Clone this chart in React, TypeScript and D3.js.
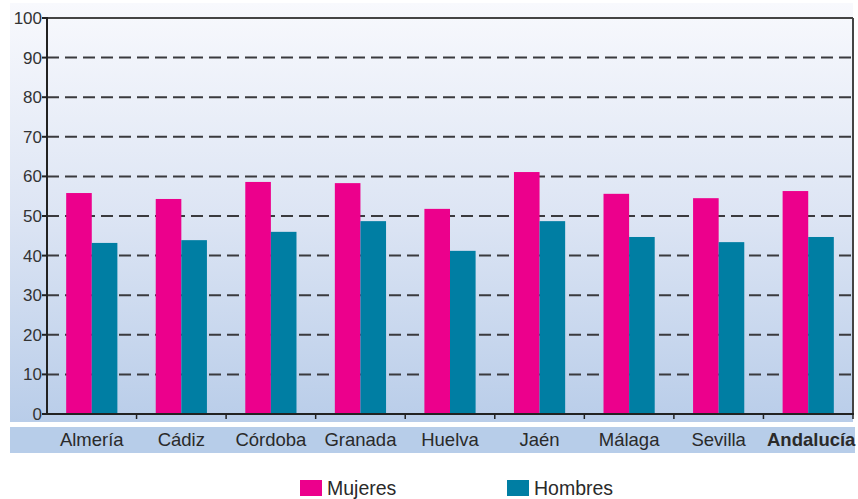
import React, { useRef, useEffect } from 'react';
import * as d3 from 'd3';

const provincias = ['Almería', 'Cádiz', 'Córdoba', 'Granada', 'Huelva', 'Jaén', 'Málaga', 'Sevilla', 'Andalucía'];
const mujeres = [55.8, 54.3, 58.6, 58.3, 51.8, 61.1, 55.6, 54.5, 56.3];
const hombres = [43.2, 43.9, 46.0, 48.7, 41.2, 48.7, 44.7, 43.4, 44.7];
const yTicks = [0, 10, 20, 30, 40, 50, 60, 70, 80, 90, 100];
const series = [
  { name: 'Mujeres', color: '#ec008c', values: mujeres },
  { name: 'Hombres', color: '#007ea3', values: hombres },
];

const W = 858;
const H = 499;

export default function App() {
  const ref = useRef<SVGSVGElement | null>(null);

  useEffect(() => {
    if (!ref.current) return;
    const svg = d3.select(ref.current);
    svg.selectAll('*').remove();

    const left = 47, right = 853, top = 18, bottom = 414;
    const font = '"Liberation Sans", Arial, sans-serif';

    // background gradient
    const defs = svg.append('defs');
    const grad = defs.append('linearGradient').attr('id', 'bg').attr('x1', 0).attr('y1', 0).attr('x2', 0).attr('y2', 1);
    grad.append('stop').attr('offset', '0%').attr('stop-color', '#f8f9fd');
    grad.append('stop').attr('offset', '50%').attr('stop-color', '#dde5f4');
    grad.append('stop').attr('offset', '100%').attr('stop-color', '#b9cde9');
    svg.append('rect').attr('x', 10).attr('y', 3).attr('width', right - 10).attr('height', 419).attr('fill', 'url(#bg)');

    // label band
    svg.append('rect').attr('x', 10).attr('y', 427).attr('width', right + 2 - 10).attr('height', 26).attr('fill', '#b7cde9');

    const x = d3.scaleBand<string>().domain(provincias).range([left, right]).paddingInner(0).paddingOuter(0);
    const y = d3.scaleLinear().domain([0, 100]).range([bottom, top]);
    const bw = 25.6;

    // gridlines
    svg.append('g').selectAll('line').data(yTicks.filter(t => t > 0 && t < 100)).join('line')
      .attr('x1', left).attr('x2', right)
      .attr('y1', d => y(d)).attr('y2', d => y(d))
      .attr('stroke', '#3a3a3e').attr('stroke-width', 2)
      .attr('stroke-dasharray', '12,6');

    // bars
    series.forEach((s, si) => {
      svg.append('g').selectAll('rect').data(s.values).join('rect')
        .attr('x', (d, i) => (x(provincias[i]) as number) + x.bandwidth() / 2 - bw + si * bw)
        .attr('y', d => y(d))
        .attr('width', bw)
        .attr('height', d => y(0) - y(d))
        .attr('fill', s.color);
    });

    // frame
    svg.append('line').attr('x1', left).attr('x2', right).attr('y1', top).attr('y2', top).attr('stroke', '#444').attr('stroke-width', 2);
    svg.append('line').attr('x1', right).attr('x2', right).attr('y1', top).attr('y2', bottom).attr('stroke', '#444').attr('stroke-width', 2);
    svg.append('line').attr('x1', left).attr('x2', left).attr('y1', top - 1).attr('y2', bottom + 1).attr('stroke', '#222').attr('stroke-width', 2);
    svg.append('line').attr('x1', left).attr('x2', right + 1).attr('y1', bottom).attr('y2', bottom).attr('stroke', '#222').attr('stroke-width', 2);

    // y ticks
    const yg = svg.append('g');
    yTicks.forEach(t => {
      yg.append('line').attr('x1', left - 5).attr('x2', left).attr('y1', y(t)).attr('y2', y(t)).attr('stroke', '#222').attr('stroke-width', 2);
      yg.append('text').attr('x', left - 5).attr('y', y(t)).attr('dy', '0.35em')
        .attr('text-anchor', 'end').attr('font-family', font).attr('font-size', 17).attr('fill', '#333')
        .text(t);
    });

    // x ticks
    provincias.forEach((p, i) => {
      if (i > 0) {
        const xx = x(p) as number;
        svg.append('line').attr('x1', xx).attr('x2', xx).attr('y1', bottom).attr('y2', bottom + 5).attr('stroke', '#222').attr('stroke-width', 1.5);
      }
    });
    svg.append('line').attr('x1', right).attr('x2', right).attr('y1', bottom).attr('y2', bottom + 5).attr('stroke', '#222').attr('stroke-width', 1.5);

    svg.append('g').selectAll('text').data(provincias).join('text')
      .attr('x', (d, i) => (x(d) as number) + x.bandwidth() / 2 + (i === provincias.length - 1 ? 3 : 0))
      .attr('y', 440).attr('dy', '0.35em')
      .attr('text-anchor', 'middle').attr('font-family', font).attr('font-size', 18.5)
      .attr('font-weight', (d, i) => (i === provincias.length - 1 ? 'bold' : 'normal'))
      .attr('fill', '#2a2a2a')
      .text(d => d);

    // legend
    const legendX = [300, 507];
    series.forEach((s, i) => {
      svg.append('rect').attr('x', legendX[i]).attr('y', 480).attr('width', 22).attr('height', 16).attr('fill', s.color);
      svg.append('text').attr('x', legendX[i] + 27).attr('y', 494.5)
        .attr('font-family', font).attr('font-size', 19.5).attr('fill', '#2a2a2a').text(s.name);
    });
  }, []);

  return (
    <div style={{ position: 'absolute', left: 0, top: 0 }}>
      <svg ref={ref} width={W} height={H} style={{ display: 'block' }} />
    </div>
  );
}
